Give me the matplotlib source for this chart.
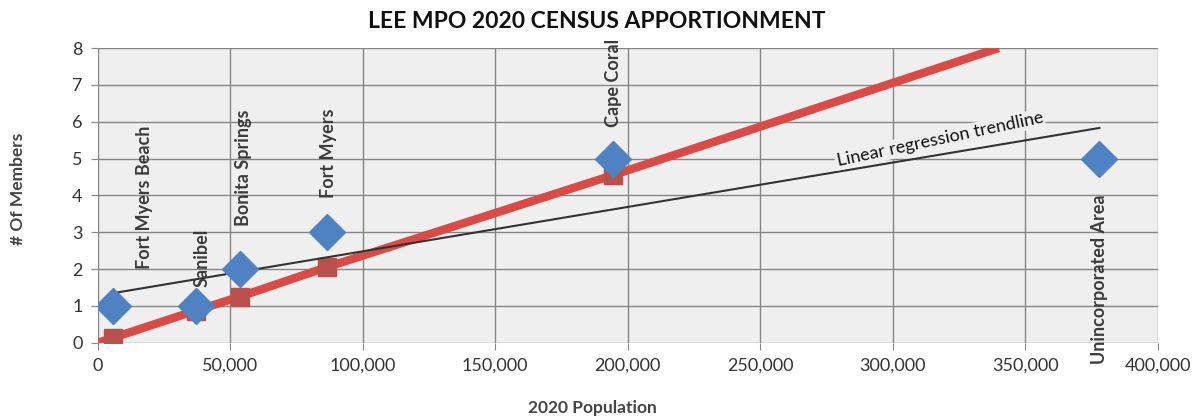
import matplotlib.pyplot as plt
from matplotlib.ticker import FuncFormatter, MultipleLocator

plt.rcParams["font.family"] = ["Lato", "DejaVu Sans"]

# jurisdiction data
places = ["Fort Myers Beach", "Sanibel", "Bonita Springs", "Fort Myers",
          "Cape Coral", "Unincorporated Area"]
population = [5600, 36900, 53600, 86400, 194500, 378000]
members = [1, 1, 2, 3, 5, 5]

# proportional apportionment (red)
prop_x = [0, 5600, 36900, 53600, 86400, 194500, 340000]
prop_y = [0, 0.13, 0.87, 1.25, 2.05, 4.55, 8.0]

# linear regression trendline end points
trend_x = [5300, 378000]
trend_y = [1.34, 5.83]

# label anchor positions (data units)
label_x = [17800, 39200, 55000, 87000, 194600, 378000]
label_y = [3.95, 2.3, 4.76, 5.13, 7.06, 1.73]

fig = plt.figure(figsize=(11.95, 4.2), dpi=100)
ax = fig.add_axes([0.0818, 0.184, 0.887, 0.7017])
ax.set_facecolor("#efefef")

ax.grid(True, color="#858585", linewidth=1.0, zorder=0)
ax.set_axisbelow(True)
for s in ax.spines.values():
    s.set_visible(False)

ax.plot(prop_x, prop_y, color="#dc4a46", linewidth=6, solid_capstyle="butt", zorder=3)
ax.plot(prop_x[1:-1], prop_y[1:-1], linestyle="none", marker="s", markersize=13,
        color="#b9504c", zorder=4)
ax.plot(trend_x, trend_y, color="#333333", linewidth=1.5, zorder=5)
ax.plot(population, members, linestyle="none", marker="D", markersize=18,
        color="#4f82c2", zorder=6)

for name, lx, ly in zip(places, label_x, label_y):
    ax.text(lx, ly, name, rotation=90, ha="center", va="center", fontsize=13,
            fontweight="bold", color="#3c3c3c", zorder=7, clip_on=False)

ax.text(317800, 5.52, "Linear regression trendline", rotation=12, ha="center",
        va="center", fontsize=13, color="#111111", zorder=7,
        bbox=dict(facecolor="#efefef", edgecolor="none", pad=1))

ax.set_xlim(0, 400000)
ax.set_ylim(0, 8)
ax.xaxis.set_major_locator(MultipleLocator(50000))
ax.yaxis.set_major_locator(MultipleLocator(1))
ax.xaxis.set_major_formatter(FuncFormatter(lambda v, p: f"{v:,.0f}"))
ax.tick_params(axis="both", labelsize=13, colors="#858585", labelcolor="#333333",
               length=5, pad=6)

fig.text(0.4996, 0.948, "LEE MPO 2020 CENSUS APPORTIONMENT", fontsize=16.5,
         fontweight="bold", color="#111111", ha="center", va="center")
fig.text(0.496, 0.028, "2020 Population", fontsize=12.5, fontweight="bold",
         color="#444444", ha="center", va="center")
fig.text(0.015, 0.55, "# Of Members", fontsize=12.5, fontweight="bold",
         color="#444444", ha="center", va="center", rotation=90)

plt.savefig("out.png", dpi=100)
